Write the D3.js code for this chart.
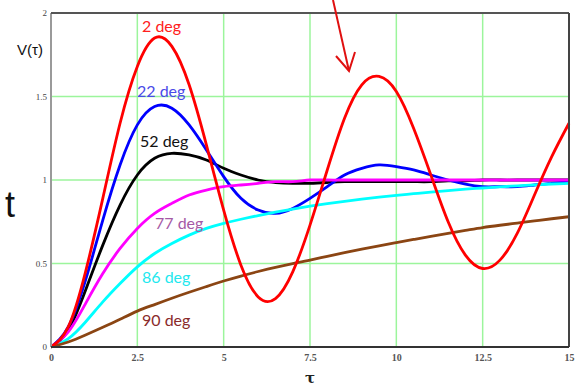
<!DOCTYPE html>
<html>
<head>
<meta charset="utf-8">
<script src="https://cdn.jsdelivr.net/npm/d3@7"></script>
<style>
  body { margin: 0; background: #fff; }
  svg { display: block; }
</style>
</head>
<body>
<svg id="chart" width="578" height="386"></svg>
<script>
// values, tau step 0.5
const tau = d3.range(0, 15.01, 0.5);
const v2 = [0, 0.12, 0.45, 0.89, 1.34, 1.68, 1.85, 1.80, 1.57, 1.21, 0.82, 0.49, 0.30, 0.29, 0.45, 0.73,
  1.06, 1.37, 1.57, 1.62, 1.53, 1.31, 1.03, 0.75, 0.55, 0.47, 0.52, 0.68, 0.91, 1.14, 1.34];
const v22 = [0, 0.12, 0.40, 0.76, 1.09, 1.33, 1.44, 1.43, 1.33, 1.18, 1.02, 0.89, 0.82, 0.80, 0.83, 0.89,
  0.96, 1.03, 1.07, 1.09, 1.08, 1.06, 1.03, 1.00, 0.975, 0.96, 0.96, 0.96, 0.97, 0.98, 0.99];
const v52 = [0, 0.10, 0.34, 0.61, 0.85, 1.03, 1.13, 1.16, 1.15, 1.12, 1.07, 1.03, 1.00, 0.985, 0.98, 0.98,
  0.985, 0.99, 0.99, 0.99, 0.99, 0.99, 0.99, 0.995, 0.995, 1.0, 1.0, 1.0, 1.0, 1.0, 1.0];
const v77 = [0, 0.09, 0.26, 0.44, 0.59, 0.71, 0.80, 0.86, 0.91, 0.94, 0.96, 0.97, 0.98, 0.99, 0.99, 1.0,
  1.0, 1.0, 1.0, 1.0, 1.0, 1.0, 1.0, 1.0, 1.0, 1.0, 1.0, 1.0, 1.0, 1.0, 1.0];
const v86 = [0, 0.05, 0.15, 0.27, 0.38, 0.48, 0.56, 0.62, 0.67, 0.71, 0.74, 0.765, 0.787, 0.807, 0.826, 0.843,
  0.858, 0.872, 0.885, 0.897, 0.908, 0.918, 0.928, 0.937, 0.945, 0.952, 0.959, 0.965, 0.971, 0.976, 0.98];
const v90 = [0, 0.03, 0.072, 0.118, 0.166, 0.215, 0.254, 0.292, 0.328, 0.362, 0.395, 0.425, 0.452, 0.477, 0.499, 0.52,
  0.543, 0.565, 0.586, 0.606, 0.625, 0.644, 0.663, 0.681, 0.698, 0.715, 0.729, 0.742, 0.755, 0.768, 0.78];

const xTicks = [0, 2.5, 5, 7.5, 10, 12.5, 15];
const yTicks = [0, 0.5, 1, 1.5, 2];

const svg = d3.select("#chart");
const L = 51, R = 569, T = 13, B = 347;
const x = d3.scaleLinear().domain([0, 15]).range([L, R]);
const y = d3.scaleLinear().domain([0, 2]).range([B, T]);

// grid (inner lines only)
const grid = svg.append("g").attr("stroke", "#9cf59c").attr("stroke-width", 1.5);
xTicks.slice(1, -1).forEach(t => {
  grid.append("line").attr("x1", x(t)).attr("x2", x(t)).attr("y1", T).attr("y2", B);
});
yTicks.slice(1, -1).forEach(t => {
  grid.append("line").attr("x1", L).attr("x2", R).attr("y1", y(t)).attr("y2", y(t));
});

// curves, drawn back to front
const line = d3.line().x((d, i) => x(tau[i])).y(d => y(d)).curve(d3.curveNatural);
const series = [
  [v52, "#000000"], [v22, "#0000ff"], [v86, "#00ffff"], [v77, "#ff00ff"], [v90, "#8b4513"], [v2, "#ff0000"]
];
series.forEach(s => {
  svg.append("path").attr("d", line(s[0])).attr("fill", "none")
    .attr("stroke", s[1]).attr("stroke-width", 2.8);
});

// frame
svg.append("line").attr("x1", L).attr("x2", L).attr("y1", T).attr("y2", B).attr("stroke", "#9a9a9a").attr("stroke-width", 2);
svg.append("line").attr("x1", L).attr("x2", R).attr("y1", T).attr("y2", T).attr("stroke", "#555").attr("stroke-width", 2);
svg.append("line").attr("x1", R).attr("x2", R).attr("y1", T).attr("y2", B).attr("stroke", "#444").attr("stroke-width", 2);
svg.append("line").attr("x1", L).attr("x2", R).attr("y1", B).attr("y2", B).attr("stroke", "#333").attr("stroke-width", 2);

// axes labels
const fmt = d => String(d);
const yAxis = svg.append("g").attr("transform", `translate(${L - 3},0)`)
  .call(d3.axisLeft(y).tickValues(yTicks).tickFormat(fmt).tickSize(0).tickPadding(1));
yAxis.select(".domain").remove();
yAxis.selectAll("text").attr("font-family", "Liberation Serif").attr("font-size", 9).attr("fill", "#444");

const xAxis = svg.append("g").attr("transform", `translate(0,${B + 6})`)
  .call(d3.axisBottom(x).tickValues(xTicks).tickFormat(fmt).tickSize(0).tickPadding(1));
xAxis.select(".domain").remove();
xAxis.selectAll("text").attr("font-family", "Liberation Serif").attr("font-size", 10)
  .attr("font-weight", "bold").attr("fill", "#555");

svg.append("text").attr("x", 310).attr("y", 383).attr("text-anchor", "middle")
  .attr("font-family", "DejaVu Serif").attr("font-weight", "bold").attr("font-size", 15)
  .attr("fill", "#222").text("τ");
svg.append("text").attr("x", 17).attr("y", 55)
  .attr("font-family", "Liberation Sans").attr("font-size", 15).attr("fill", "#111").text("V(τ)");

// curve labels
const labels = [
  ["2 deg", 142, 32, "#ff2020"], ["22 deg", 137, 97, "#4a4ae8"], ["52 deg", 140, 147, "#111"],
  ["77 deg", 155, 229, "#a55aa5"], ["86 deg", 142, 283, "#22e8ee"], ["90 deg", 142, 326, "#8a2a2a"]
];
labels.forEach(l => {
  svg.append("text").attr("x", l[1]).attr("y", l[2]).attr("font-family", "Lato")
    .attr("font-size", 16).attr("fill", l[3]).text(l[0]);
});

// leftover text from the slide (only its last letter is inside the frame)
svg.append("text").attr("x", 15).attr("y", 217).attr("text-anchor", "end")
  .attr("font-family", "Liberation Sans").attr("font-size", 36).attr("fill", "#111").text("t");

// red arrow
const arrow = svg.append("g").attr("stroke", "#e01010").attr("stroke-width", 2).attr("fill", "none");
arrow.append("line").attr("x1", 333).attr("y1", 0).attr("x2", 349).attr("y2", 71);
arrow.append("polyline").attr("points", "336,56 349,71 355,52");
</script>
</body>
</html>
